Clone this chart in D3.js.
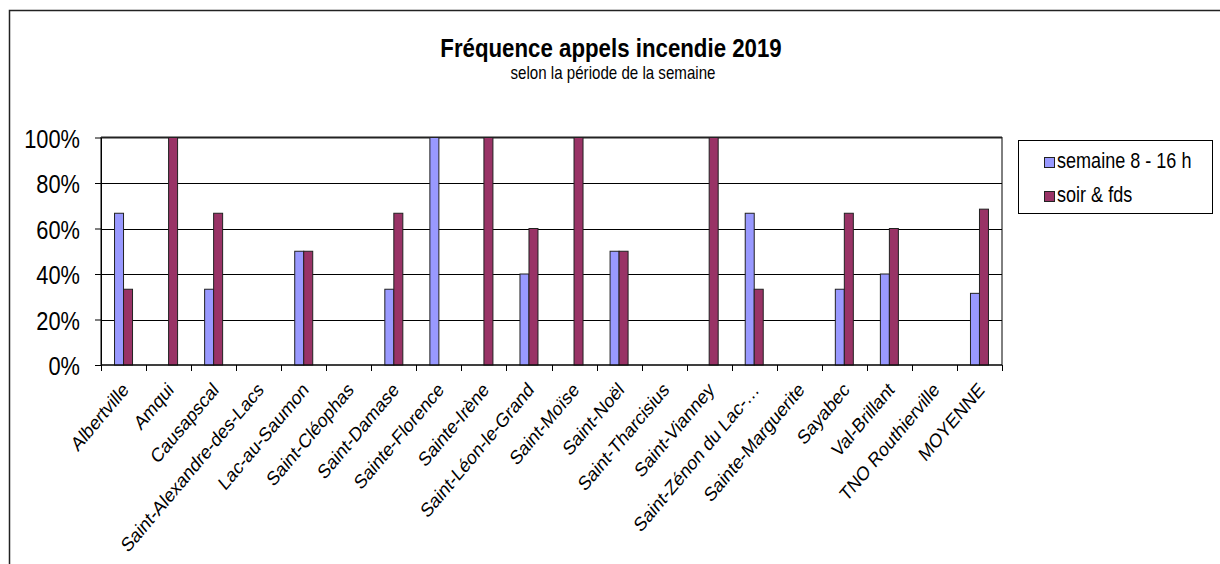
<!DOCTYPE html>
<html>
<head>
<meta charset="utf-8">
<script src="https://cdn.jsdelivr.net/npm/d3@7/dist/d3.min.js"></script>
<style>
  html, body { margin: 0; padding: 0; background: #fff; }
  svg { display: block; }
  text { font-family: "Liberation Sans", Arial, sans-serif; fill: #000; }
</style>
</head>
<body>
<svg id="chart" width="1220" height="564"></svg>
<script>
const categories = ["Albertville", "Amqui", "Causapscal", "Saint-Alexandre-des-Lacs", "Lac-au-Saumon",
  "Saint-Cléophas", "Saint-Damase", "Sainte-Florence", "Sainte-Irène", "Saint-Léon-le-Grand",
  "Saint-Moïse", "Saint-Noël", "Saint-Tharcisius", "Saint-Vianney", "Saint-Zénon du Lac-…",
  "Sainte-Marguerite", "Sayabec", "Val-Brillant", "TNO Routhierville", "MOYENNE"];
const semaine = [66.7, 0, 33.3, 0, 50, 0, 33.3, 100, 0, 40, 0, 50, 0, 0, 66.7, 0, 33.3, 40, 0, 31.5];
const soir    = [33.3, 100, 66.7, 0, 50, 0, 66.7, 0, 100, 60, 100, 50, 0, 100, 33.3, 0, 66.7, 60, 0, 68.5];
const seriesNames = ["semaine 8 - 16 h", "soir & fds"];
const yTicks = [0, 20, 40, 60, 80, 100];
const title = "Fréquence appels incendie 2019";
const subtitle = "selon la période de la semaine";

const colors = ["#9999FF", "#993366"];
const SX = 0.84; // horizontal condensation of the reference rendering

const svg = d3.select("#chart");

// outer chart border
svg.append("rect").attr("x", 9.5).attr("y", 10.5).attr("width", 1400).attr("height", 800)
  .attr("fill", "none").attr("stroke", "#222").attr("stroke-width", 1.5);

const L = 101, R = 1002, T = 137.5, B = 365;
const x = d3.scaleBand().domain(categories).range([L, R]).padding(0);
const y = d3.scaleLinear().domain([0, 100]).range([B, T]);
const barW = 9;
const xs = d3.scaleBand().domain(seriesNames).range([0, barW * 2]);

// title
svg.append("text").attr("transform", `translate(611,57) scale(${SX},1)`)
  .attr("text-anchor", "middle").style("font-size", "26.5px").style("font-weight", "bold").text(title);
svg.append("text").attr("transform", `translate(613,79) scale(${SX},1)`)
  .attr("text-anchor", "middle").style("font-size", "18px").text(subtitle);

// gridlines
svg.append("g").selectAll("line").data(yTicks.filter(d => d > 0 && d < 100)).join("line")
  .attr("x1", L).attr("x2", R).attr("y1", d => Math.round(y(d)) + 0.5).attr("y2", d => Math.round(y(d)) + 0.5)
  .attr("stroke", "#000").attr("stroke-width", 1);

// plot border
svg.append("rect").attr("x", L).attr("y", T).attr("width", R - L).attr("height", B - T)
  .attr("fill", "none").attr("stroke", "#000").attr("stroke-width", 1);
svg.append("line").attr("x1", L).attr("x2", R).attr("y1", T).attr("y2", T)
  .attr("stroke", "#222").attr("stroke-width", 2);

// bars
const data = categories.map((c, i) => ({ cat: c, vals: [semaine[i], soir[i]] }));
const groups = svg.append("g").selectAll("g").data(data).join("g")
  .attr("transform", d => `translate(${x(d.cat) + x.bandwidth() / 2 - barW},0)`);
groups.selectAll("rect").data(d => d.vals.map((v, k) => ({ v, k })).filter(e => e.v > 0)).join("rect")
  .attr("x", e => xs(seriesNames[e.k]))
  .attr("y", e => y(e.v))
  .attr("width", barW)
  .attr("height", e => B - y(e.v))
  .attr("fill", e => colors[e.k])
  .attr("stroke", "#222").attr("stroke-width", 1);

// y axis
const yAxis = d3.axisLeft(y).tickValues(yTicks).tickFormat(d => d + "%").tickSize(6).tickSizeOuter(0);
const gy = svg.append("g").attr("transform", `translate(${L},0)`).call(yAxis);
gy.select(".domain").attr("stroke", "#000");
gy.selectAll(".tick line").attr("stroke", "#000");
gy.selectAll(".tick text")
  .attr("x", null).attr("dy", null)
  .attr("transform", `translate(-21,9.5) scale(${SX},1)`)
  .attr("text-anchor", "end")
  .style("font-size", "26px").style("font-family", "Liberation Sans, Arial, sans-serif");

// x axis line + ticks at band boundaries
svg.append("line").attr("x1", L).attr("x2", R).attr("y1", B).attr("y2", B).attr("stroke", "#000");
const bounds = categories.map(c => x(c)).concat([x(categories[categories.length - 1]) + x.bandwidth()]);
svg.append("g").selectAll("line").data(bounds).join("line")
  .attr("x1", d => Math.round(d) + 0.5).attr("x2", d => Math.round(d) + 0.5)
  .attr("y1", B).attr("y2", B + 6).attr("stroke", "#000");

// x labels
svg.append("g").selectAll("text").data(categories).join("text")
  .attr("transform", d => `translate(${x(d) + x.bandwidth() / 2 + 6},${B + 26}) scale(${SX},1) rotate(-45)`)
  .attr("text-anchor", "end")
  .style("font-size", "20px")
  .text(d => d);

// legend
const lg = svg.append("g");
lg.append("rect").attr("x", 1018.5).attr("y", 140.5).attr("width", 194).attr("height", 73)
  .attr("fill", "#fff").attr("stroke", "#000");
const items = lg.selectAll("g.item").data(seriesNames).join("g").attr("class", "item")
  .attr("transform", (d, i) => `translate(1044,${157 + i * 34})`);
items.append("rect").attr("x", 0.5).attr("y", 0.5).attr("width", 10).attr("height", 10)
  .attr("fill", (d, i) => colors[i]).attr("stroke", "#222");
items.append("text").attr("transform", `translate(13,10.5) scale(${SX},1)`)
  .style("font-size", "21.5px").text(d => d);
</script>
</body>
</html>
